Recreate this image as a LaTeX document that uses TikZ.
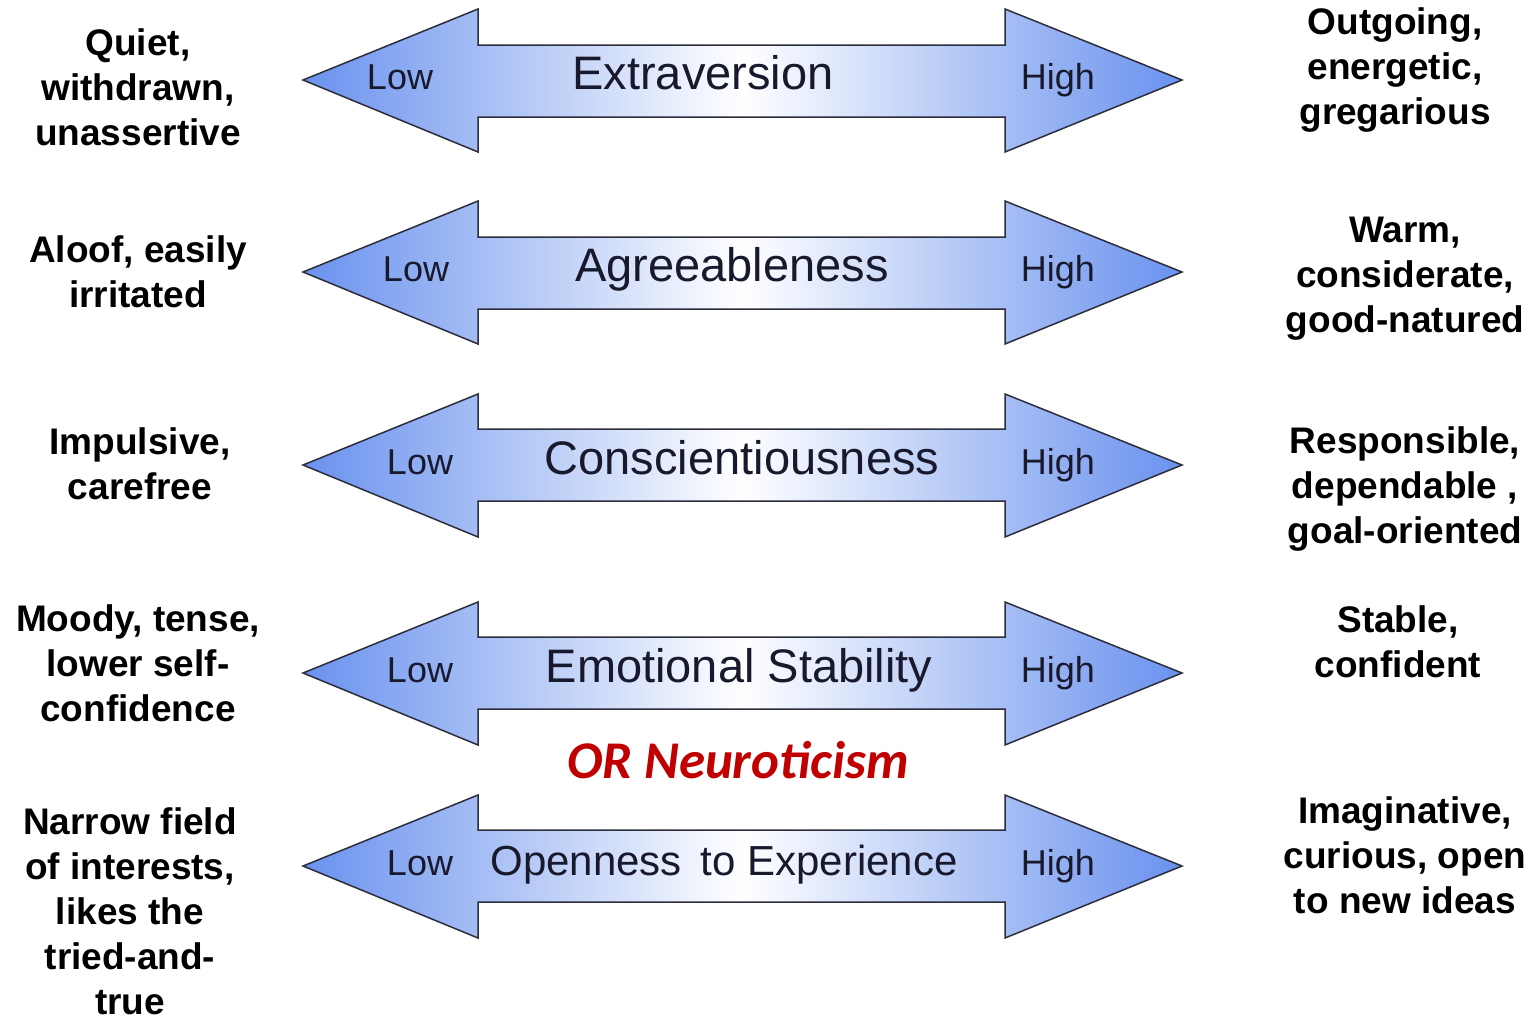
\documentclass[tikz,border=0pt]{standalone}
\usepackage{fontspec}
\setmainfont{Liberation Sans}
\newfontfamily\calibrifont{Carlito}
\definecolor{traitblue}{RGB}{105,145,238}
\definecolor{traitline}{RGB}{45,45,60}
\definecolor{traittext}{RGB}{25,25,45}
\definecolor{neurored}{RGB}{192,0,0}

\begin{document}
\begin{tikzpicture}[x=1pt,y=-1pt,
    trait/.style={draw=traitline, line width=1.5pt, line join=miter,
      left color=traitblue, right color=traitblue, middle color=white},
    pole/.style={anchor=base, text=traittext, font=\fontsize{36}{40}\selectfont},
    factor/.style={anchor=base, text=traittext, font=\fontsize{47}{52}\selectfont},
    desc/.style={align=center, inner sep=0pt, font=\bfseries\fontsize{37}{45}\selectfont}]
  \useasboundingbox (0,0) rectangle (1539,1021);
  % the five double arrows
  \draw[trait] (303,80) -- (478,9) -- (478,45) -- (1005,45) -- (1005,9) -- (1182,80)
    -- (1005,152) -- (1005,117) -- (478,117) -- (478,152) -- cycle;
  \draw[trait] (303,272) -- (478,201) -- (478,237) -- (1005,237) -- (1005,201) -- (1182,272)
    -- (1005,344) -- (1005,309) -- (478,309) -- (478,344) -- cycle;
  \draw[trait] (303,465) -- (478,394) -- (478,429) -- (1005,429) -- (1005,394) -- (1182,465)
    -- (1005,537) -- (1005,501) -- (478,501) -- (478,537) -- cycle;
  \draw[trait] (303,673) -- (478,602) -- (478,637) -- (1005,637) -- (1005,602) -- (1182,673)
    -- (1005,745) -- (1005,709) -- (478,709) -- (478,745) -- cycle;
  \draw[trait] (303,866) -- (478,795) -- (478,830) -- (1005,830) -- (1005,795) -- (1182,866)
    -- (1005,938) -- (1005,902) -- (478,902) -- (478,938) -- cycle;
  % labels inside the arrows
  \node[pole] (low1) at (400,89) {Low};
  \node[pole] (high1) at (1058,89) {High};
  \node[factor] (extra) at (703,89) {Extraversion};
  \node[pole] (low2) at (416,281) {Low};
  \node[pole] (high2) at (1058,281) {High};
  \node[factor] (agree) at (732,281) {Agreeableness};
  \node[pole] (low3) at (420,474) {Low};
  \node[pole] (high3) at (1058,474) {High};
  \node[factor] (consc) at (742,474) {Conscientiousness};
  \node[pole] (low4) at (420,682) {Low};
  \node[pole] (high4) at (1058,682) {High};
  \node[factor] (emost) at (739,682) {Emotional Stability};
  \node[pole] (low5) at (420,875) {Low};
  \node[pole] (high5) at (1058,875) {High};
  \node[factor, font=\fontsize{42}{48}\selectfont] (openx) at (724,875) {Openness \,to Experience};
  \node[anchor=base, text=neurored, font=\calibrifont\bfseries\itshape\fontsize{53}{56}\selectfont]
    (neuro) at (738,778) {OR Neuroticism};
  % low end descriptions
  \node[desc] (quiet) at (138,87) {Quiet,\\withdrawn,\\unassertive};
  \node[desc] (aloof) at (138,272) {Aloof, easily\\irritated};
  \node[desc] (impul) at (140,464) {Impulsive,\\carefree};
  \node[desc] (moody) at (138,663) {Moody, tense,\\lower self-\\confidence};
  \node[desc] (narrow) at (130,911) {Narrow field\\of interests,\\likes the\\tried-and-\\true};
  % high end descriptions
  \node[desc] (outgo) at (1395,70) {Outgoing,\\energetic,\\gregarious};
  \node[desc] (warm) at (1405,279) {Warm,\\considerate,\\good-natured};
  \node[desc] (respo) at (1405,489) {Responsible,\\dependable ,\\goal-oriented};
  \node[desc] (stable) at (1398,642) {Stable,\\confident};
  \node[desc] (imagi) at (1405,855) {Imaginative,\\curious, open\\to new ideas};
\end{tikzpicture}
\end{document}
